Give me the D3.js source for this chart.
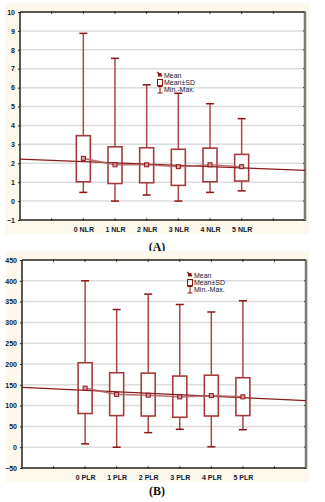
<!DOCTYPE html>
<html><head><meta charset="utf-8">
<script src="https://cdn.jsdelivr.net/npm/d3@7"></script>
<style>body{margin:0;background:#fff}svg{display:block}</style>
</head><body>
<script>
// Panel A: NLR
const catsA = ["0 NLR","1 NLR","2 NLR","3 NLR","4 NLR","5 NLR"];
const maxA  = [8.87,7.55,6.15,5.70,5.15,4.36];
const hiA   = [3.46,2.87,2.82,2.74,2.80,2.47];
const meanA = [2.26,1.92,1.92,1.82,1.92,1.82];
const loA   = [1.02,0.93,0.97,0.83,1.02,1.06];
const minA  = [0.46,0.00,0.32,0.00,0.46,0.54];
const trendA = [2.22,1.62];          // fitted line at left / right edge
const ticksA = [-1,0,1,2,3,4,5,6,7,8,9,10];

// Panel B: PLR
const catsB = ["0 PLR","1 PLR","2 PLR","3 PLR","4 PLR","5 PLR"];
const maxB  = [400,331,368,343,325,352];
const hiB   = [203,179,178,171,173,167];
const meanB = [142,127,125,121,124,121];
const loB   = [81,76,75,72,75,76];
const minB  = [8,0,35,43,1,42];
const trendB = [144,112];
const ticksB = [-50,0,50,100,150,200,250,300,350,400,450];

const legendLabels = ["Mean","Mean±SD","Min.-Max."];

const svg = d3.select("body").append("svg").attr("width",325).attr("height",502);

function panel(cfg){
  const g = svg.append("g");
  g.append("rect").attr("x",cfg.bg[0]).attr("y",cfg.bg[1]).attr("width",cfg.bg[2]).attr("height",cfg.bg[3]).attr("fill","#fdf8ec");
  const L=cfg.L,R=cfg.R,T=cfg.T,B=cfg.B;
  g.append("rect").attr("x",L).attr("y",T).attr("width",R-L).attr("height",B-T).attr("fill","#fff");
  const x = d3.scaleLinear().domain([-2,7]).range([L,R]);
  const y = d3.scaleLinear().domain(cfg.ydom).range([B,T]);
  // grid
  g.selectAll(".grid").data(cfg.ticks.filter(t=>t!==cfg.ydom[0]&&t!==cfg.ydom[1])).join("line")
    .attr("x1",L).attr("x2",R).attr("y1",d=>y(d)).attr("y2",d=>y(d))
    .attr("stroke","#dcdcdc").attr("stroke-width",1.5);
  // left axis
  const ax = g.append("g").attr("transform",`translate(${L},0)`)
    .call(d3.axisLeft(y).tickValues(cfg.ticks).tickSize(2).tickPadding(3).tickFormat(d3.format("d")));
  ax.select(".domain").remove();
  ax.selectAll("text").attr("font-family","Liberation Sans, Arial, sans-serif").attr("font-size",7).attr("font-weight","bold").attr("fill","#111833");
  ax.selectAll("line").attr("stroke","#222");
  // right ticks
  g.selectAll(".rt").data(cfg.ticks).join("line").attr("x1",R-2).attr("x2",R).attr("y1",d=>y(d)).attr("y2",d=>y(d)).attr("stroke","#222");
  // bottom axis labels
  const bx = g.append("g").attr("transform",`translate(0,${B})`)
    .call(d3.axisBottom(x).tickValues(d3.range(cfg.cats.length)).tickSize(0).tickPadding(7).tickFormat(i=>cfg.cats[i]));
  bx.select(".domain").remove();
  bx.selectAll("text").attr("font-family","Liberation Sans, Arial, sans-serif").attr("font-size",7).attr("font-weight","bold").attr("fill","#111833");
  // top and bottom tick marks
  const tpos = d3.range(-1,7);
  g.selectAll(".tt").data(tpos).join("line").attr("x1",d=>x(d)).attr("x2",d=>x(d)).attr("y1",T-1).attr("y2",T+2).attr("stroke","#333");
  g.selectAll(".bt").data(tpos).join("line").attr("x1",d=>x(d)).attr("x2",d=>x(d)).attr("y1",B-2).attr("y2",B+1).attr("stroke","#555");
  // frame
  g.append("line").attr("x1",L).attr("x2",R).attr("y1",T).attr("y2",T).attr("stroke","#222").attr("stroke-width",1.3);
  g.append("line").attr("x1",L).attr("x2",R+1).attr("y1",B).attr("y2",B).attr("stroke","#222").attr("stroke-width",1.5);
  g.append("line").attr("x1",L).attr("x2",L).attr("y1",T).attr("y2",B).attr("stroke","#222").attr("stroke-width",1.5);
  g.append("line").attr("x1",R).attr("x2",R).attr("y1",T-0.5).attr("y2",B).attr("stroke","#7a7a7a").attr("stroke-width",2.5);

  const idx = d3.range(cfg.cats.length);
  const bw = 14, cw = 8;
  // whiskers
  g.selectAll(".wh").data(idx).join("line").attr("x1",i=>x(i)).attr("x2",i=>x(i))
    .attr("y1",i=>y(cfg.max[i])).attr("y2",i=>y(cfg.min[i])).attr("stroke","#a84848").attr("stroke-width",1.5);
  g.selectAll(".capt").data(idx).join("line").attr("x1",i=>x(i)-cw/2).attr("x2",i=>x(i)+cw/2)
    .attr("y1",i=>y(cfg.max[i])).attr("y2",i=>y(cfg.max[i])).attr("stroke","#8b1414").attr("stroke-width",1.5);
  g.selectAll(".capb").data(idx).join("line").attr("x1",i=>x(i)-cw/2).attr("x2",i=>x(i)+cw/2)
    .attr("y1",i=>y(cfg.min[i])).attr("y2",i=>y(cfg.min[i])).attr("stroke","#8b1414").attr("stroke-width",1.5);
  // boxes
  g.selectAll(".box").data(idx).join("rect").attr("x",i=>x(i)-bw/2).attr("width",bw)
    .attr("y",i=>y(cfg.hi[i])).attr("height",i=>y(cfg.lo[i])-y(cfg.hi[i]))
    .attr("fill","#fff").attr("stroke","#a53c3c").attr("stroke-width",1.6);
  // trend line
  g.append("line").attr("x1",x(-2)).attr("x2",x(7)).attr("y1",y(cfg.trend[0])).attr("y2",y(cfg.trend[1]))
    .attr("stroke","#8b1a1a").attr("stroke-width",1.3);
  // mean polyline
  g.append("path").attr("d",d3.line().x(i=>x(i)).y(i=>y(cfg.mean[i]))(idx))
    .attr("fill","none").attr("stroke","#b06060").attr("stroke-width",1.6).attr("opacity",0.85);
  // mean markers
  g.selectAll(".mm").data(idx).join("rect").attr("x",i=>x(i)-2).attr("y",i=>y(cfg.mean[i])-2).attr("width",4).attr("height",4)
    .attr("fill","#d8a0a0").attr("stroke","#8b1414").attr("stroke-width",1);
  // legend
  const lg = g.append("g").attr("transform",`translate(${cfg.leg[0]},${cfg.leg[1]})`);
  lg.append("line").attr("x1",-3).attr("y1",-3).attr("x2",2).attr("y2",1).attr("stroke","#8b1414").attr("stroke-width",1.2);
  lg.append("rect").attr("x",-2).attr("y",-2).attr("width",3.5).attr("height",3.5).attr("fill","#8b1414");
  lg.append("rect").attr("x",-2.5).attr("y",4.5).attr("width",5).attr("height",6).attr("fill","none").attr("stroke","#8b1414").attr("stroke-width",1);
  lg.append("line").attr("x1",0).attr("x2",0).attr("y1",11.5).attr("y2",18).attr("stroke","#8b1414").attr("stroke-width",1);
  lg.append("line").attr("x1",-2.5).attr("x2",2.5).attr("y1",11.5).attr("y2",11.5).attr("stroke","#8b1414").attr("stroke-width",1);
  lg.append("line").attr("x1",-2.5).attr("x2",2.5).attr("y1",18).attr("y2",18).attr("stroke","#8b1414").attr("stroke-width",1);
  lg.selectAll("text").data(legendLabels).join("text").attr("x",4).attr("y",(d,i)=>i*7+2.5)
    .attr("font-family","Liberation Sans, Arial, sans-serif").attr("font-size",7).attr("fill","#111833").text(d=>d);
  // caption
  svg.append("text").attr("x",cfg.cap[0]).attr("y",cfg.cap[1]).attr("text-anchor","middle")
    .attr("font-family","Liberation Serif, Times New Roman, serif").attr("font-weight","bold").attr("font-size",12).attr("fill","#111")
    .text(cfg.capText);
}

panel({bg:[5,3,304,231],L:20,R:305,T:12,B:220,ydom:[-1,10],ticks:ticksA,cats:catsA,
  max:maxA,hi:hiA,mean:meanA,lo:loA,min:minA,trend:trendA,leg:[160,75],cap:[157,251],capText:"(A)"});
panel({bg:[6,251,303,231],L:22,R:306,T:260,B:468,ydom:[-50,450],ticks:ticksB,cats:catsB,
  max:maxB,hi:hiB,mean:meanB,lo:loB,min:minB,trend:trendB,leg:[190,275],cap:[157,495],capText:"(B)"});
</script>
</body></html>
